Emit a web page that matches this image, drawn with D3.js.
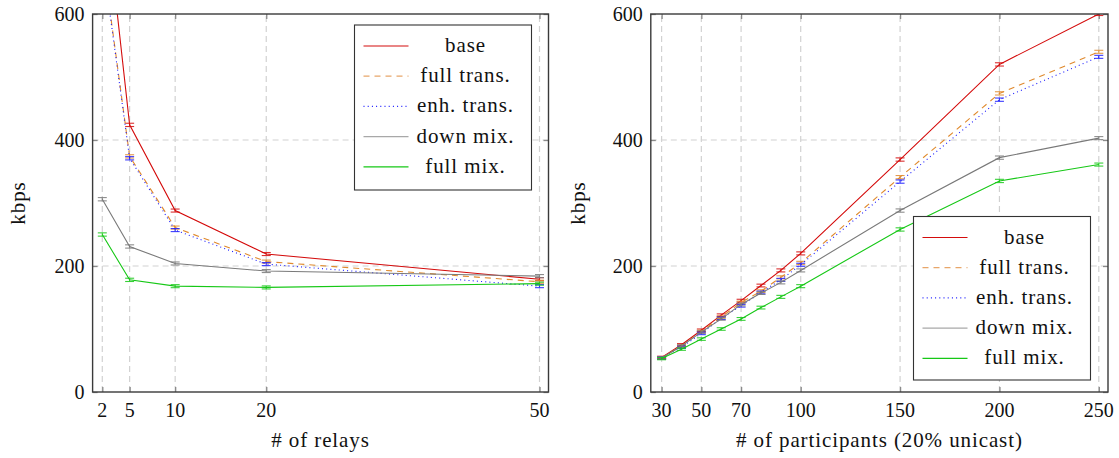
<!DOCTYPE html>
<html>
<head>
<meta charset="utf-8">
<script src="https://cdn.jsdelivr.net/npm/d3@7"></script>
</head>
<body style="margin:0">
<svg id="chart" width="1119" height="458"></svg>
<script>
// ---------- Data: left panel (# of relays) ----------
const relays = [2, 5, 10, 20, 50];
const relayTicks = [2, 5, 10, 20, 50];
const relayBase      = [815, 424, 288, 219, 179];
const relayFullTrans = [695, 374, 261, 207, 175];
const relayEnhTrans  = [690, 371, 257, 203, 168];
const relayDownMix   = [306, 231, 204, 192, 184];
const relayFullMix   = [250, 178, 168, 166, 172];
const relayErr       = [2.6, 2.6, 2.4, 2.4, 2.4];

// ---------- Data: right panel (# of participants) ----------
const participants = [30, 40, 50, 60, 70, 80, 90, 100, 150, 200, 250];
const participantTicks = [30, 50, 70, 100, 150, 200, 250];
const partBase      = [55, 75, 98, 122, 145, 169, 193, 220, 369, 520, 600];
const partFullTrans = [54, 73, 96, 119, 142, 160, 182, 205, 341, 474, 540];
const partEnhTrans  = [54, 71, 93, 117, 137, 158, 178, 202, 334, 464, 532];
const partDownMix   = [54, 73, 95, 116, 139, 157, 174, 193, 288, 372, 403];
const partFullMix   = [53, 68, 84, 100, 116, 134, 151, 168, 258, 335, 361];
const partErr       = [1.8, 1.8, 2, 2, 2.2, 2.2, 2.4, 2.4, 2.6, 2.6, 2.4];

const yTicks = [0, 200, 400, 600];
const seriesNames = ["base", "full trans.", "enh. trans.", "down mix.", "full mix."];
const seriesColors = ["#d40c0c", "#e08a2e", "#1a1aff", "#7a7a7a", "#16c816"];
const legendColors = ["#d40c0c", "#e8a66a", "#1a1aff", "#a8a8a8", "#16c816"];
const seriesDash = [null, "6,5", "1,3.2", null, null];

const FONT = "serif";
const TICK_FS = 20;
const LABEL_FS = 21;
const LSP = 0.9;

const svg = d3.select("#chart");

function addText(str, x, y, fs, anchor, lsp) {
  return svg.append("text")
    .attr("x", x).attr("y", y)
    .attr("font-size", fs)
    .attr("font-family", FONT)
    .attr("text-anchor", anchor)
    .attr("letter-spacing", lsp || 0)
    .attr("fill", "#111")
    .text(str);
}

function drawPanel(opt) {
  const { id, xs, ticks, series, err, xDomain, xRange, yRange, xLabel, yLabelX, legend } = opt;
  const x = d3.scaleLinear().domain(xDomain).range(xRange);
  const y = d3.scaleLinear().domain([0, 600]).range(yRange);
  const g = svg.append("g");

  const clipId = "clip-" + id;
  svg.append("clipPath").attr("id", clipId).append("rect")
    .attr("x", xRange[0]).attr("y", yRange[1])
    .attr("width", xRange[1] - xRange[0]).attr("height", yRange[0] - yRange[1]);

  // grid
  const gridStyle = s => s.attr("stroke", "#d2d2d2").attr("stroke-width", 1.2).attr("stroke-dasharray", "6,4");
  g.append("g").selectAll("line").data(ticks).join("line")
    .attr("x1", d => x(d)).attr("x2", d => x(d))
    .attr("y1", yRange[0]).attr("y2", yRange[1]).call(gridStyle);
  g.append("g").selectAll("line").data(yTicks.filter(t => t > 0 && t < 600)).join("line")
    .attr("y1", d => y(d)).attr("y2", d => y(d))
    .attr("x1", xRange[0]).attr("x2", xRange[1]).call(gridStyle);

  // axes: tick marks inward on all four sides
  const tickLen = 5;
  const axes = [
    g.append("g").attr("transform", `translate(0,${yRange[0]})`)
      .call(d3.axisBottom(x).tickValues(ticks).tickSize(-tickLen).tickFormat("")),
    g.append("g").attr("transform", `translate(0,${yRange[1]})`)
      .call(d3.axisTop(x).tickValues(ticks).tickSize(-tickLen).tickFormat("")),
    g.append("g").attr("transform", `translate(${xRange[0]},0)`)
      .call(d3.axisLeft(y).tickValues(yTicks).tickSize(-tickLen).tickFormat("")),
    g.append("g").attr("transform", `translate(${xRange[1]},0)`)
      .call(d3.axisRight(y).tickValues(yTicks).tickSize(-tickLen).tickFormat(""))
  ];
  axes.forEach(a => {
    a.select(".domain").remove();
    a.selectAll("text").remove();
    a.selectAll(".tick line").attr("stroke", "#8a8a8a").attr("stroke-width", 1.3);
  });

  // series lines + error bars
  const plot = g.append("g").attr("clip-path", `url(#${clipId})`);
  series.forEach((vals, i) => {
    const pts = xs.map((xv, j) => [xv, vals[j], err[j]]);
    const line = d3.line().x(d => x(d[0])).y(d => y(d[1]));
    plot.append("path").datum(pts).attr("d", line)
      .attr("fill", "none").attr("stroke", seriesColors[i]).attr("stroke-width", 1.1)
      .attr("stroke-dasharray", seriesDash[i]);
    const eb = plot.append("g").attr("stroke", seriesColors[i]).attr("stroke-width", 1.1).attr("opacity", 0.85);
    pts.forEach(d => {
      const cx = x(d[0]);
      eb.append("line").attr("x1", cx).attr("x2", cx).attr("y1", y(d[1] - d[2])).attr("y2", y(d[1] + d[2]));
      [d[1] - d[2], d[1] + d[2]].forEach(v => {
        eb.append("line").attr("x1", cx - 4.5).attr("x2", cx + 4.5).attr("y1", y(v)).attr("y2", y(v));
      });
    });
  });

  // frame
  g.append("rect").attr("x", xRange[0]).attr("y", yRange[1])
    .attr("width", xRange[1] - xRange[0]).attr("height", yRange[0] - yRange[1])
    .attr("fill", "none").attr("stroke", "#3a3a3a").attr("stroke-width", 1.4);

  // legend box and samples
  const lg = g.append("g");
  lg.append("rect").attr("x", legend.x).attr("y", legend.y).attr("width", legend.w).attr("height", legend.h)
    .attr("fill", "#fff").attr("stroke", "#333").attr("stroke-width", 1.1);
  seriesNames.forEach((name, i) => {
    const cy = legend.y + 21 + i * 30.2;
    lg.append("line").attr("x1", legend.x + 9).attr("x2", legend.x + 54)
      .attr("y1", cy).attr("y2", cy).attr("stroke", legendColors[i]).attr("stroke-width", 1.2)
      .attr("stroke-dasharray", seriesDash[i]);
    addText(name, legend.x + 111, cy + 6, LABEL_FS, "middle", LSP);
  });

  // tick labels
  ticks.forEach(t => addText(String(t), x(t), yRange[0] + 25, TICK_FS, "middle"));
  yTicks.forEach(t => addText(String(t), xRange[0] - 8, y(t) + 7, TICK_FS, "end"));

  // axis titles
  addText(xLabel, (xRange[0] + xRange[1]) / 2, 447, LABEL_FS, "middle", LSP);
  const cyl = (yRange[0] + yRange[1]) / 2;
  addText("kbps", 0, 0, LABEL_FS, "middle", LSP)
    .attr("transform", `translate(${yLabelX + 7},${cyl}) rotate(-90)`);
}

const series1 = [relayBase, relayFullTrans, relayEnhTrans, relayDownMix, relayFullMix];
const series2 = [partBase, partFullTrans, partEnhTrans, partDownMix, partFullMix];

// pixel mapping: relays 2 -> 102.3, 50 -> 539.5 ; participants 30 -> 661.6, 250 -> 1098.8
const kx1 = (539.5 - 102.3) / 48;
const kx2 = (1098.8 - 661.6) / 220;

drawPanel({
  id: "a", xs: relays, ticks: relayTicks, series: series1, err: relayErr,
  xDomain: [2 - (102.3 - 92.6) / kx1, 50 + (548.5 - 539.5) / kx1], xRange: [92.6, 548.5],
  yRange: [392, 14], xLabel: "# of relays", yLabelX: 18,
  legend: { x: 354.5, y: 25, w: 177, h: 165 }
});
drawPanel({
  id: "b", xs: participants, ticks: participantTicks, series: series2, err: partErr,
  xDomain: [30 - (661.6 - 650.8) / kx2, 250 + (1108 - 1098.8) / kx2], xRange: [650.8, 1108],
  yRange: [392, 14], xLabel: "# of participants (20% unicast)", yLabelX: 578,
  legend: { x: 913.5, y: 216.5, w: 177, h: 163.5 }
});
</script>
</body>
</html>
